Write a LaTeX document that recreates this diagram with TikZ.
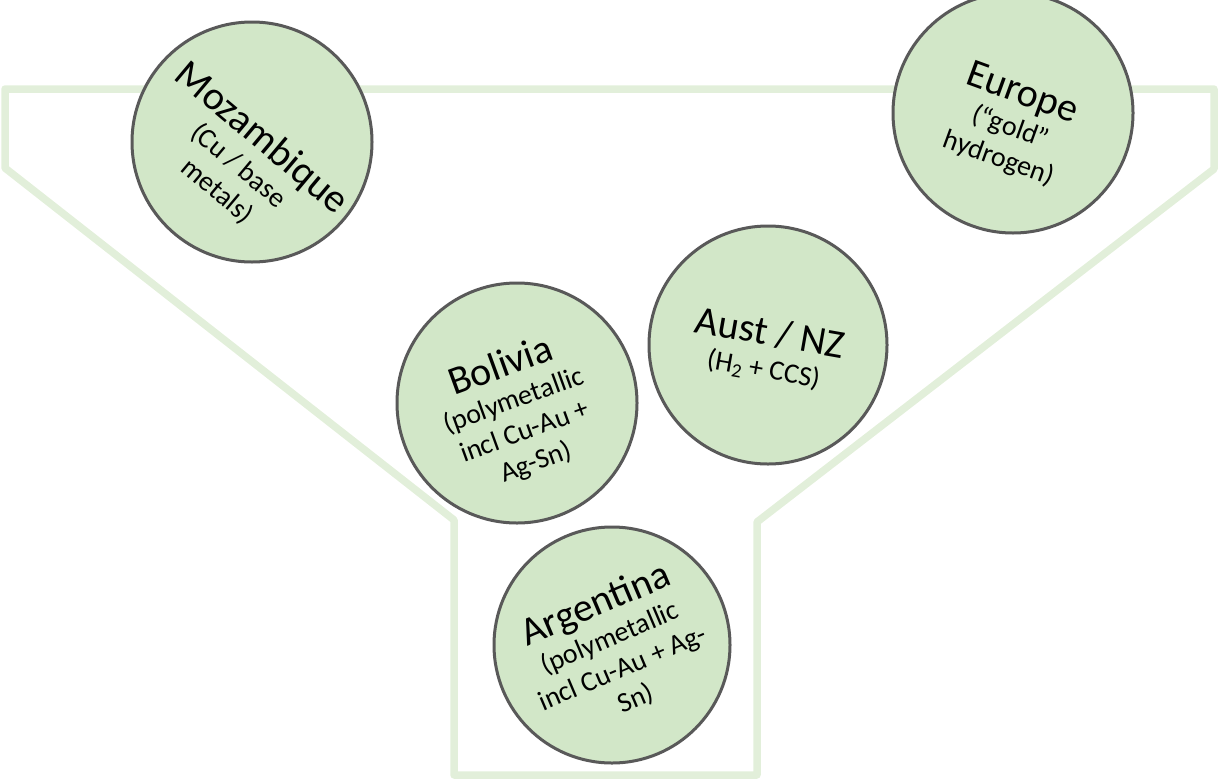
\documentclass[tikz,border=0pt]{standalone}
\usepackage{fontspec}
\setmainfont{Carlito}
\definecolor{funnelgreen}{HTML}{E2EFDA}
\definecolor{ballgreen}{HTML}{D2E7C8}
\definecolor{ballgray}{HTML}{595959}
\tikzset{
  funnelline/.style={draw=funnelgreen, line width=7.5pt, line join=round},
  ball/.style={circle, draw=ballgray, fill=ballgreen, line width=3pt, inner sep=0pt, minimum size=#1},
  ball/.default=240pt,
  balltext/.style={align=center, inner sep=0pt, text=black, font=\fontsize{28}{33}\selectfont},
  ttl/.style={}
}
\newcommand{\ttlfont}{\fontsize{40}{44}\selectfont}
\begin{document}
\begin{tikzpicture}[x=1pt,y=-1pt]
\useasboundingbox (0,0) rectangle (1221,782);
% funnel outline
\coordinate (f1) at (5,89);
\coordinate (f2) at (1214,89);
\coordinate (f3) at (1214,169);
\coordinate (f4) at (757,522);
\coordinate (f5) at (757,775);
\coordinate (f6) at (454,775);
\coordinate (f7) at (454,520);
\coordinate (f8) at (5,168);
\draw[funnelline] (f1) -- (f2) -- (f3) -- (f4) -- (f5) -- (f6) -- (f7) -- (f8) -- cycle;
% circles
\node[ball] (moz) at (252,142) {};
\node[ball] (eur) at (1013,113) {};
\node[ball] (bol) at (517,403) {};
\node[ball=238pt] (aus) at (768,345) {};
\node[ball=236pt] (arg) at (612,645) {};
% texts
\node[balltext, rotate=-40] (mozT) at (241,163) {{\ttlfont Mozambique}\\(Cu / base\\metals)};
\node[balltext, rotate=-20] (eurT) at (1011,125) {{\ttlfont Europe}\\(“gold”\\hydrogen)};
\node[balltext, rotate=20] (bolT) at (518,413) {{\ttlfont Bolivia}\\(polymetallic\\incl Cu-Au +\\Ag-Sn)};
\node[balltext, rotate=-10] (ausT) at (767,350) {{\ttlfont Aust / NZ}\\(H\textsubscript{2} + CCS)};
\node[balltext, rotate=23] (argT) at (615,650) {{\ttlfont Argentina}\\(polymetallic\\incl Cu-Au + Ag-\\Sn)};
\end{tikzpicture}
\end{document}
